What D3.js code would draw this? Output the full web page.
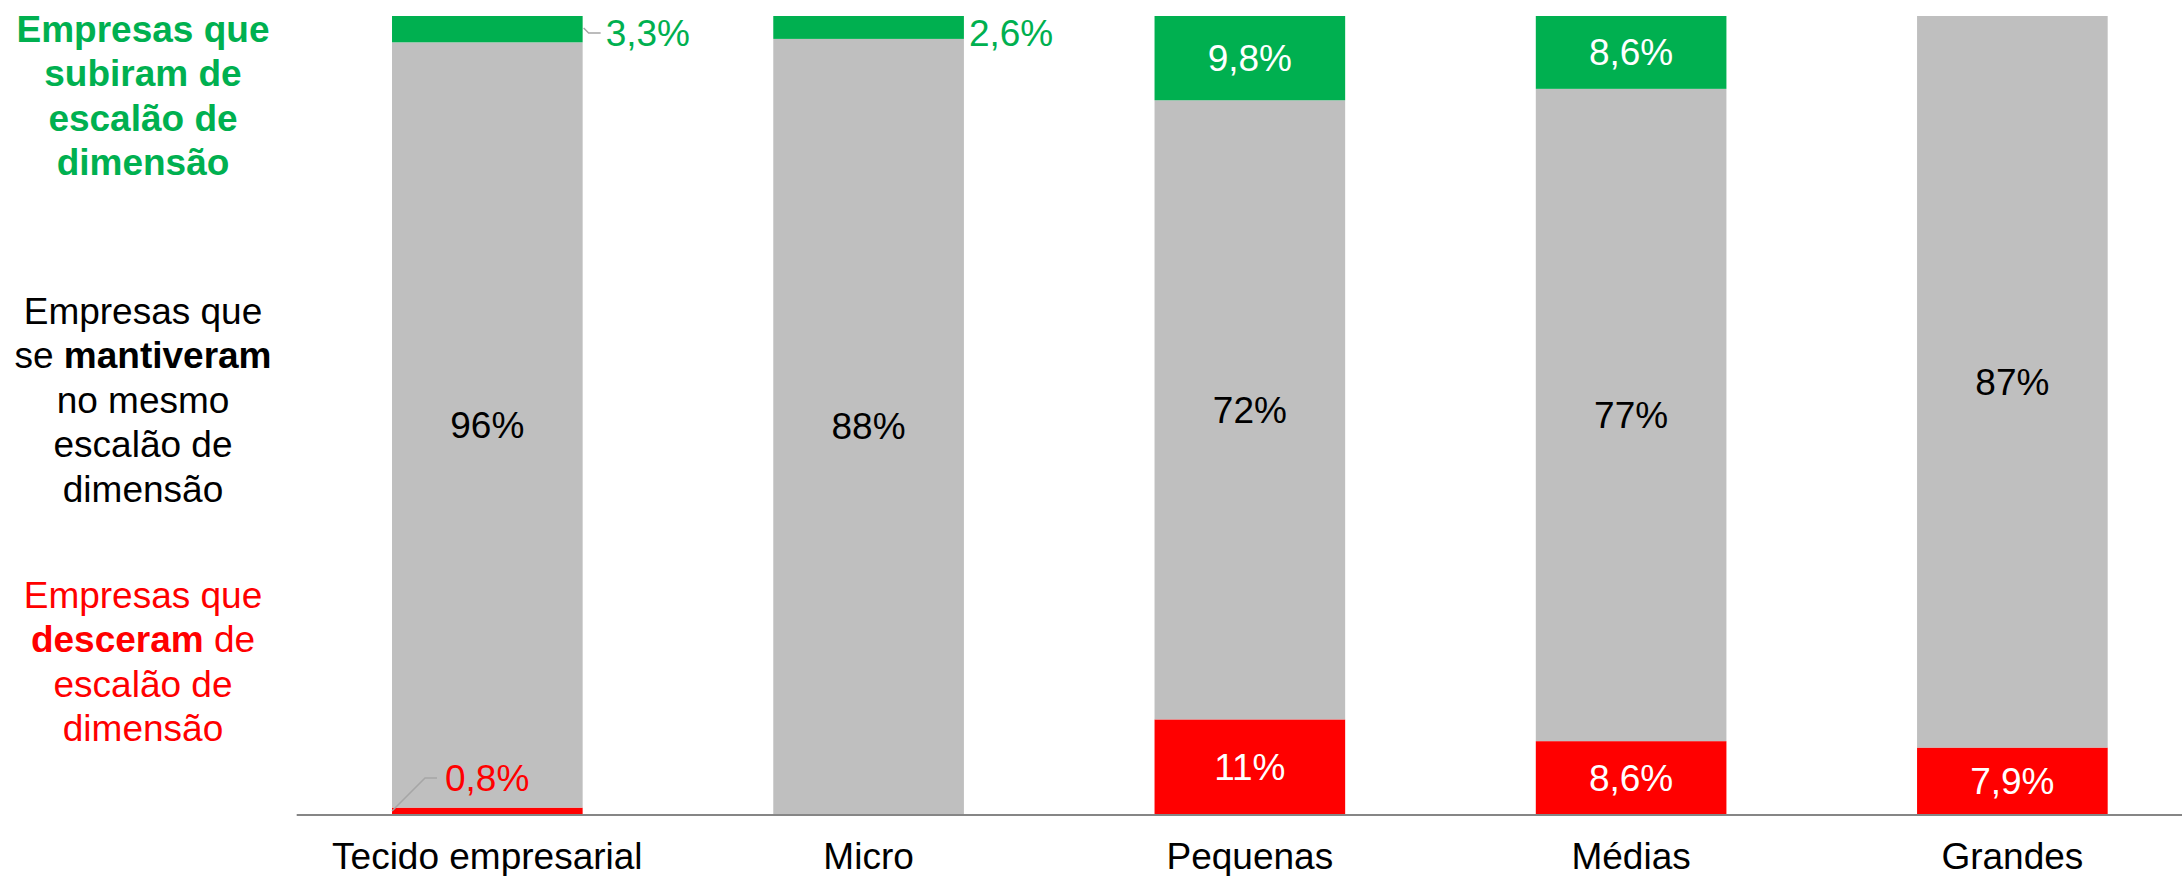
<!DOCTYPE html>
<html><head><meta charset="utf-8">
<script src="https://cdn.jsdelivr.net/npm/d3@7"></script>
<style>
html,body{margin:0;padding:0;background:#fff;}
svg{display:block;font-family:"Liberation Sans",Arial,sans-serif;}
</style></head>
<body>
<svg id="chart" width="2182" height="876"></svg>
<script>
// ---- data ----
const categories = ["Tecido empresarial", "Micro", "Pequenas", "Médias", "Grandes"];
const upValues   = [3.3, 2.6, 9.8, 8.6, 0];   // subiram de escalão
const sameValues = [96, 88, 72, 77, 87];      // mantiveram
const downValues = [0.8, 0, 11, 8.6, 7.9];    // desceram de escalão
const upLabels   = ["3,3%", "2,6%", "9,8%", "8,6%", ""];
const sameLabels = ["96%", "88%", "72%", "77%", "87%"];
const downLabels = ["0,8%", "", "11%", "8,6%", "7,9%"];

const GREEN = "#00B050", GRAY = "#BFBFBF", RED = "#FF0000";
const W = 2182, H = 876, FS = 37;

const svg = d3.select("#chart");

const x = d3.scaleBand().domain(categories).range([296.7, 2203]).paddingInner(0.5).paddingOuter(0.25);
const y = d3.scaleLinear().domain([0, 1]).range([814, 16]);

// build stacked (100%) rows
const rows = categories.map((c, i) => {
  const tot = upValues[i] + sameValues[i] + downValues[i];
  const d0 = 0, d1 = downValues[i] / tot;
  const s1 = d1 + sameValues[i] / tot;
  return {c, i, segs: [
    {key: "down", y0: d0, y1: d1, color: RED, label: downLabels[i]},
    {key: "same", y0: d1, y1: s1, color: GRAY, label: sameLabels[i]},
    {key: "up", y0: s1, y1: 1, color: GREEN, label: upLabels[i]}
  ]};
});

const g = svg.append("g");
rows.forEach(r => {
  r.segs.forEach(s => {
    if (s.y1 - s.y0 <= 0) return;
    g.append("rect")
      .attr("x", x(r.c)).attr("width", x.bandwidth())
      .attr("y", y(s.y1)).attr("height", y(s.y0) - y(s.y1))
      .attr("fill", s.color);
  });
});

// axis line
svg.append("line").attr("x1", 296.7).attr("x2", W).attr("y1", y(0) + 1).attr("y2", y(0) + 1)
  .attr("stroke", "#868686").attr("stroke-width", 2);

// category labels
const xAxis = d3.axisBottom(x).tickSize(0).tickPadding(0);
const ax = svg.append("g").attr("transform", `translate(0,${y(0)})`).call(xAxis);
ax.select(".domain").remove();
ax.selectAll("text").attr("font-size", FS).attr("fill", "#000")
  .attr("font-family", "Liberation Sans, Arial, sans-serif")
  .attr("dy", null).attr("y", 55);

// data labels
rows.forEach(r => {
  const cx = x(r.c) + x.bandwidth() / 2;
  const right = x(r.c) + x.bandwidth();
  const left = x(r.c);
  r.segs.forEach(s => {
    if (!s.label) return;
    const h = y(s.y0) - y(s.y1);
    const mid = (y(s.y0) + y(s.y1)) / 2;
    if (s.key === "same") {
      svg.append("text").attr("x", cx).attr("y", mid).attr("dy", "0.35em")
        .attr("text-anchor", "middle").attr("font-size", FS).attr("fill", "#000").text(s.label);
    } else if (h > 45) {
      svg.append("text").attr("x", cx).attr("y", mid).attr("dy", "0.35em")
        .attr("text-anchor", "middle").attr("font-size", FS).attr("fill", "#fff").text(s.label);
    } else if (s.key === "up") {
      const hasLeader = r.i === 0;
      const lx = right + (hasLeader ? 23 : 5);
      const ly = y(1) + 17;
      if (hasLeader) {
        svg.append("polyline")
          .attr("points", `${right + 1},${ly - 5} ${right + 6},${ly} ${right + 18},${ly}`)
          .attr("fill", "none").attr("stroke", "#A6A6A6").attr("stroke-width", 1.5);
      }
      svg.append("text").attr("x", lx).attr("y", ly).attr("dy", "0.35em")
        .attr("font-size", FS).attr("fill", GREEN).text(s.label);
    } else {
      // small red segment: label above with leader
      const ly = y(0) - 36;
      svg.append("polyline")
        .attr("points", `${left},${y(0) - 3} ${left + 33},${ly} ${left + 45},${ly}`)
        .attr("fill", "none").attr("stroke", "#A6A6A6").attr("stroke-width", 1.5);
      svg.append("text").attr("x", left + 53).attr("y", ly).attr("dy", "0.35em")
        .attr("font-size", FS).attr("fill", RED).text(s.label);
    }
  });
});

// left legend
const legCx = 143, lh = 44.4;
function legend(lines, startY, color) {
  const t = svg.append("text").attr("text-anchor", "middle").attr("font-size", FS).attr("fill", color);
  lines.forEach((parts, k) => {
    const line = t.append("tspan").attr("x", legCx).attr("y", startY + k * lh);
    parts.forEach(p => {
      line.append("tspan").attr("font-weight", p[1] ? "bold" : "normal").text(p[0]);
    });
  });
}
legend([[["Empresas que", 1]], [["subiram de", 1]], [["escalão de", 1]], [["dimensão", 1]]], 42, GREEN);
legend([[["Empresas que", 0]], [["se ", 0], ["mantiveram", 1]], [["no mesmo", 0]], [["escalão de", 0]], [["dimensão", 0]]], 324, "#000");
legend([[["Empresas que", 0]], [["desceram", 1], [" de", 0]], [["escalão de", 0]], [["dimensão", 0]]], 608, RED);
</script>
</body></html>
